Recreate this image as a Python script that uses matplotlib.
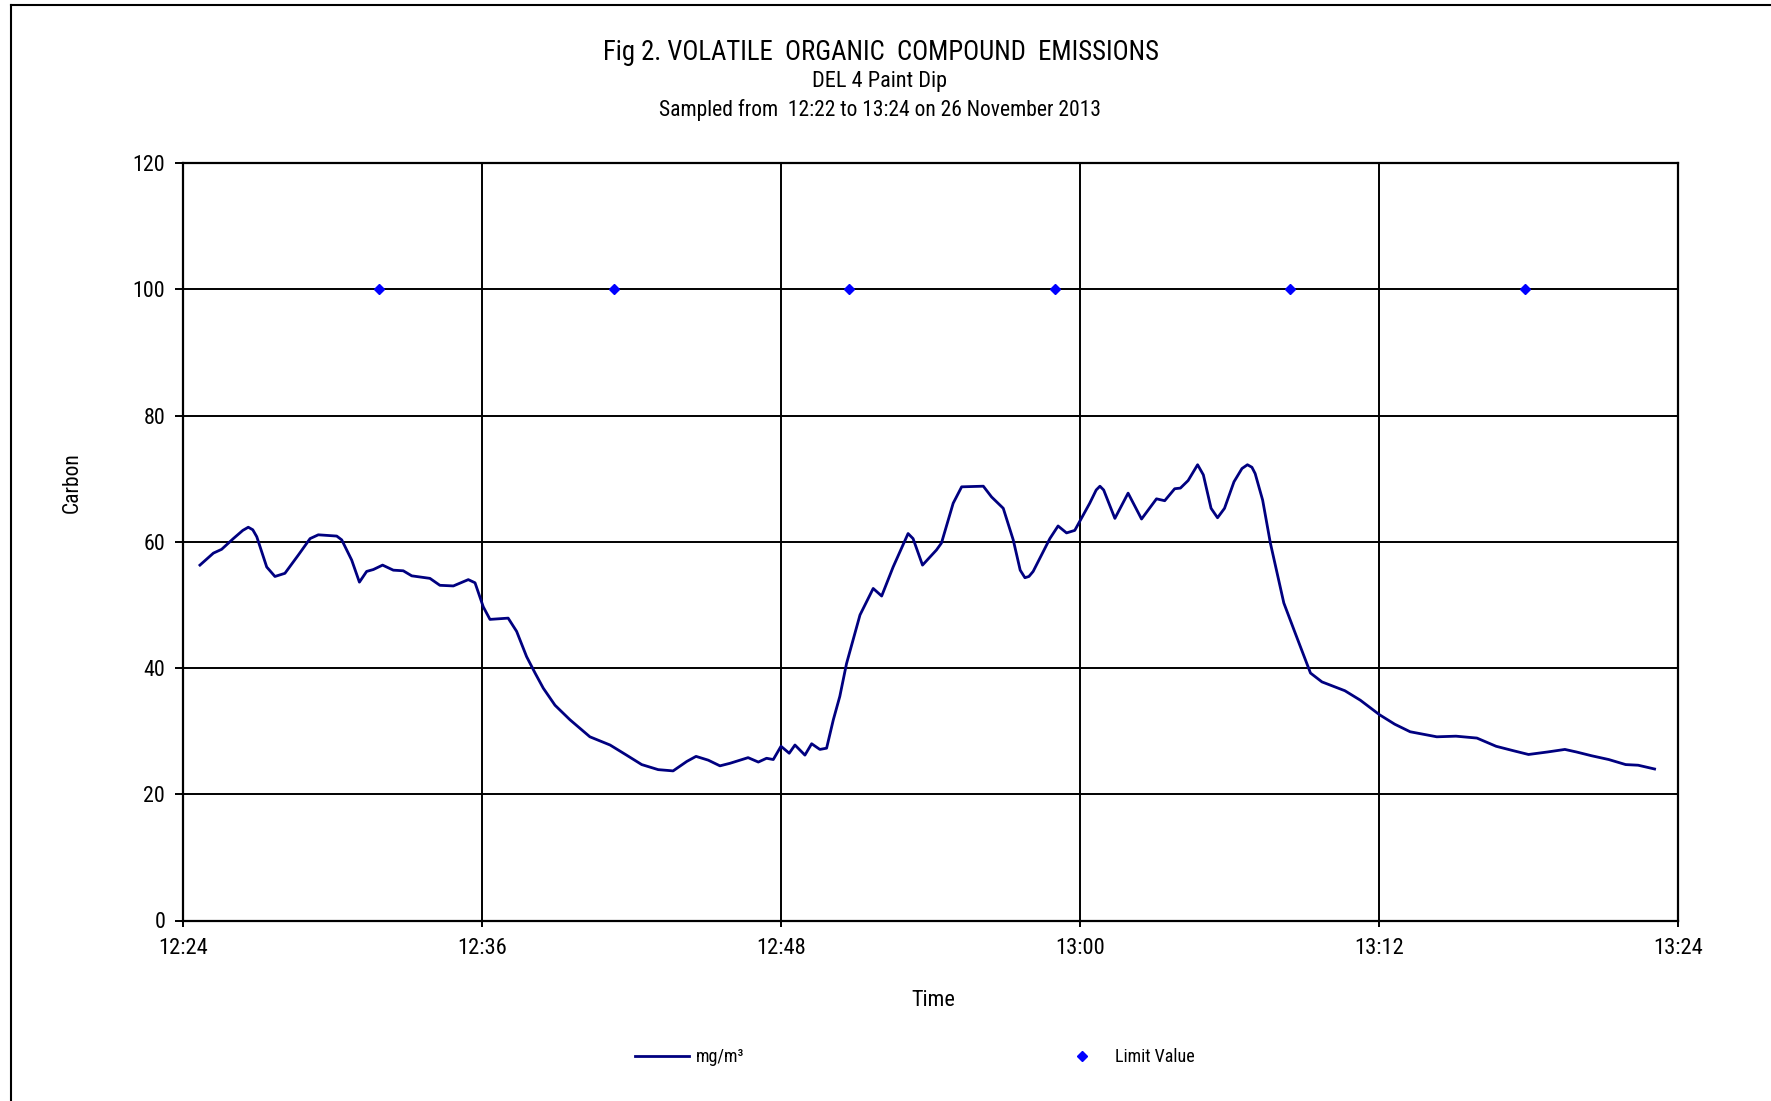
import matplotlib
matplotlib.use("Agg")
import matplotlib.pyplot as plt
from matplotlib.lines import Line2D

# Sample times in minutes after 12:24, and VOC concentration (mg/m3 as carbon)
minutes = [
    0.68, 1.22, 1.55, 2.02, 2.40, 2.62, 2.80, 2.96, 3.36, 3.69, 4.09, 4.63,
    5.10, 5.43, 6.17, 6.37, 6.77, 7.08, 7.37, 7.64, 8.01, 8.44,
    8.84, 9.18, 9.91, 10.31, 10.85, 11.45, 11.72, 12.05, 12.32, 13.05,
    13.39, 13.79, 14.13, 14.46, 14.93, 15.53, 16.33, 17.14, 17.80, 18.41,
    19.07, 19.67, 20.22, 20.59, 21.08, 21.55, 21.95, 22.68, 23.09, 23.42,
    23.69, 24.00, 24.33, 24.56, 24.96, 25.23, 25.56, 25.83, 26.10, 26.36,
    26.63, 27.17, 27.70, 28.04, 28.50, 29.10, 29.30, 29.68, 30.24, 30.44,
    30.91, 31.25, 32.12, 32.45, 32.92, 33.32, 33.60, 33.79, 33.95, 34.12, 34.79, 35.12,
    35.46, 35.79, 36.39, 36.65, 36.80, 36.95, 37.40, 37.93, 38.47, 39.07, 39.40, 39.80,
    40.03, 40.34, 40.72, 40.95, 41.26, 41.52, 41.80, 42.18, 42.50, 42.72, 42.90, 43.03,
    43.33, 43.64, 44.18, 44.64, 45.25, 45.71, 46.63, 47.25, 48.02, 48.63,
    49.25, 50.32, 51.09, 51.93, 52.70, 53.39, 54.00, 54.77, 55.46, 55.92,
    56.53, 57.22, 57.90, 58.40, 59.06,
]
mg_m3 = [
    56.3, 58.2, 58.8, 60.5, 61.8, 62.3, 61.9, 60.8, 56.0, 54.5, 55.0, 57.9,
    60.5, 61.1, 60.9, 60.3, 57.1, 53.6, 55.3, 55.6, 56.3, 55.5,
    55.4, 54.6, 54.2, 53.1, 53.0, 54.0, 53.5, 49.7, 47.7, 47.9,
    45.8, 41.8, 39.2, 36.8, 34.1, 31.8, 29.1, 27.8, 26.2, 24.7,
    23.9, 23.7, 25.2, 26.0, 25.4, 24.5, 24.9, 25.8, 25.1, 25.7,
    25.5, 27.6, 26.5, 27.8, 26.2, 28.0, 27.1, 27.3, 31.8, 35.5,
    40.7, 48.4, 52.6, 51.4, 56.0, 61.3, 60.5, 56.3, 58.7, 59.8,
    66.1, 68.7, 68.8, 67.1, 65.3, 60.3, 55.5, 54.3, 54.5, 55.3, 60.5, 62.5,
    61.4, 61.8, 66.1, 68.2, 68.8, 68.2, 63.7, 67.7, 63.6, 66.8, 66.5, 68.4,
    68.5, 69.7, 72.2, 70.6, 65.3, 63.8, 65.3, 69.5, 71.6, 72.2, 71.8, 70.8,
    66.6, 59.8, 50.3, 45.5, 39.2, 37.8, 36.4, 34.9, 32.6, 31.1,
    29.9, 29.1, 29.2, 28.9, 27.6, 26.9, 26.3, 26.7, 27.1, 26.7,
    26.1, 25.5, 24.7, 24.6, 24.0,
]

# Emission limit value markers
limit_minutes = [7.88, 17.31, 26.74, 34.99, 44.41, 53.85]
limit_values = [100, 100, 100, 100, 100, 100]

# Axis ticks
x_tick_pos = [0, 12, 24, 36, 48, 60]
x_tick_labels = ["12:24", "12:36", "12:48", "13:00", "13:12", "13:24"]
y_ticks = [0, 20, 40, 60, 80, 100, 120]

title_lines = [
    "Fig 2. VOLATILE  ORGANIC  COMPOUND  EMISSIONS",
    "DEL 4 Paint Dip",
    "Sampled from  12:22 to 13:24 on 26 November 2013",
]

FONT = ["Liberation Sans Narrow", "Roboto Condensed", "DejaVu Sans"]
plt.rcParams["font.family"] = FONT

W, H = 1771, 1101
fig = plt.figure(figsize=(W / 100, H / 100), dpi=100)
fig.patch.set_facecolor("white")

def fx(px):
    return px / W

def fy(py):
    return 1 - py / H

ax = fig.add_axes([fx(183), fy(920.5), fx(1678) - fx(183), fy(163) - fy(920.5)])

line, = ax.plot(minutes, mg_m3, color="#000080", lw=2.0, solid_joinstyle="round",
                label="mg/m\u00b3", zorder=3)
pts, = ax.plot(limit_minutes, limit_values, linestyle="none", marker="D",
               markersize=5.4, color="#0000ff", label="Limit Value", zorder=4)

ax.set_xlim(0, 60)
ax.set_ylim(0, 120)
ax.set_xticks(x_tick_pos)
ax.set_xticklabels(x_tick_labels)
ax.set_yticks(y_ticks)
ax.grid(True, color="black", lw=1.4)
ax.set_axisbelow(True)
for s in ax.spines.values():
    s.set_linewidth(1.6)
    s.set_color("black")
ax.tick_params(axis="y", direction="out", length=5.8, width=1.4, pad=7, labelsize=15.8)
ax.tick_params(axis="x", direction="out", length=4.3, width=1.4, pad=8, labelsize=16.2)

ax.set_xlabel("Time", fontsize=16)
ax.xaxis.label.set_va("center")
ax.xaxis.set_label_coords((933 - 183) / 1495, (920.5 - 1000) / 757.5)
ax.set_ylabel("Carbon", fontsize=15.5)
ax.yaxis.label.set_va("center")
ax.yaxis.set_label_coords((72 - 183) / 1495, (920.5 - 483) / 757.5)

fig.text(fx(881), fy(53), title_lines[0], ha="center", va="center", fontsize=19.3)
fig.text(fx(880), fy(81), title_lines[1], ha="center", va="center", fontsize=16.0)
fig.text(fx(880), fy(110), title_lines[2], ha="center", va="center", fontsize=15.5)

leg = fig.legend(handles=[line, pts], loc="center left",
                 bbox_to_anchor=(fx(635), fy(1057)), ncol=2, frameon=False,
                 fontsize=13, handlelength=3.0, handletextpad=0.35,
                 columnspacing=17.2, borderpad=0, borderaxespad=0,
                 markerscale=0.85)

# Chart-area frame
fig.add_artist(Line2D([fx(11), fx(11)], [fy(5), -0.01], color="black", lw=1.5,
                      transform=fig.transFigure))
fig.add_artist(Line2D([fx(11), 1.01], [fy(5), fy(5)], color="black", lw=1.5,
                      transform=fig.transFigure))

fig.savefig("out.png", dpi=100)
